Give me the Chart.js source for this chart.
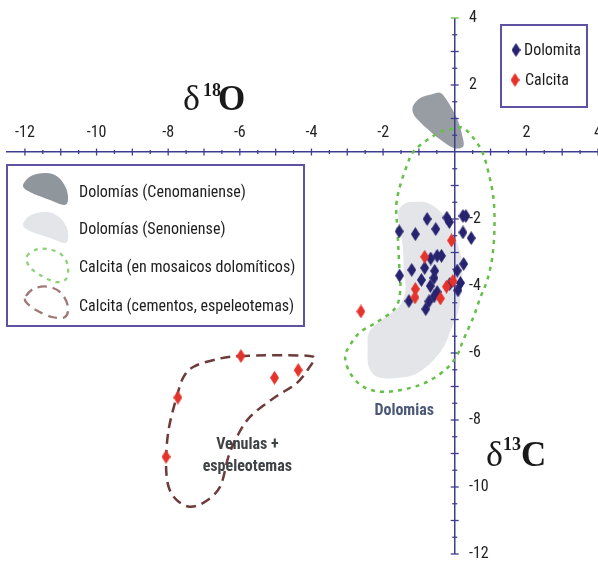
<!DOCTYPE html>
<html><head><meta charset="utf-8">
<style>html,body{margin:0;padding:0;background:#fff;}canvas{display:block;}</style>
<script src="https://cdn.jsdelivr.net/npm/chart.js@4.4.1/dist/chart.umd.min.js"></script>
</head><body>
<canvas id="c" width="598" height="561"></canvas>
<script>
// ---- data (δ18O, δ13C) ----
const dolomita = [[-0.77,-2.00],[-0.22,-1.96],[-0.15,-2.09],[0.23,-1.91],[0.31,-1.91],[-1.55,-2.37],[-1.10,-2.45],[-0.53,-2.30],[0.23,-2.40],[0.46,-2.57],[-0.67,-3.18],[-0.49,-3.10],[-0.37,-3.10],[-0.84,-3.46],[-1.20,-3.52],[-1.54,-3.69],[0.25,-3.34],[0.07,-3.54],[-0.56,-3.55],[-0.58,-3.76],[-0.93,-3.82],[-0.68,-4.00],[-0.14,-3.94],[0.16,-3.91],[0.09,-4.13],[-0.49,-4.18],[-0.58,-4.31],[-0.72,-4.46],[-0.81,-4.69],[-1.28,-4.45]];
const calcita = [[-0.09,-2.64],[-0.84,-3.13],[-1.10,-4.09],[-1.11,-4.34],[-0.40,-4.37],[-0.23,-4.02],[-0.05,-3.85],[-2.62,-4.76],[-5.97,-6.09],[-4.37,-6.51],[-5.03,-6.74],[-7.73,-7.33],[-8.06,-9.10]];
const seriesNames = ['Dolomita','Calcita'];
const xLabelValues = [-12,-10,-8,-6,-4,-2,2,4];
const yLabelValues = [4,2,-2,-4,-6,-8,-10,-12];
// field outlines (δ18O, δ13C)
const cenomaniense = [[-1.15,1.40],[-0.95,1.62],[-0.61,1.73],[-0.39,1.76],[-0.17,1.46],[0.08,0.96],[0.22,0.45],[0.25,0.21],[0.17,0.12],[-0.03,0.12],[-0.31,0.30],[-0.67,0.60],[-1.03,0.96],[-1.17,1.19]];
const senoniense = [[-1.56,-1.73],[-1.37,-1.52],[-1.15,-1.49],[-0.75,-1.52],[-0.39,-1.79],[-0.11,-2.24],[0.11,-2.84],[0.22,-3.43],[0.17,-4.12],[0.11,-4.72],[-0.11,-5.31],[-0.31,-5.82],[-0.67,-6.30],[-1.15,-6.66],[-1.70,-6.75],[-2.15,-6.72],[-2.40,-6.42],[-2.43,-5.82],[-2.40,-5.40],[-2.15,-5.10],[-1.84,-4.87],[-1.59,-4.66],[-1.45,-4.42],[-1.37,-4.03],[-1.42,-3.61],[-1.45,-2.84],[-1.56,-2.09]];
const calcitaMosaicos = [[-1.63,-1.58],[-1.52,-0.99],[-1.33,-0.39],[-1.19,-0.04],[-0.96,0.21],[-0.40,0.60],[0.02,0.70],[0.24,0.72],[0.52,0.42],[0.77,0.0],[0.94,-0.60],[1.08,-1.37],[1.11,-2.24],[1.05,-3.13],[0.91,-3.82],[0.72,-4.33],[0.52,-4.93],[0.24,-5.61],[0.07,-6.06],[-0.21,-6.45],[-0.68,-6.81],[-1.24,-7.04],[-1.99,-7.16],[-2.55,-7.01],[-2.92,-6.60],[-3.06,-6.12],[-2.92,-5.76],[-2.63,-5.37],[-2.16,-5.07],[-1.66,-4.66],[-1.52,-4.12],[-1.55,-3.37],[-1.60,-2.33]];
const calcitaCementos = [[-5.99,-6.09],[-4.13,-6.08],[-3.96,-6.23],[-4.08,-6.46],[-4.41,-6.90],[-5.06,-7.35],[-5.71,-7.90],[-6.08,-8.50],[-6.32,-9.10],[-6.55,-9.99],[-6.97,-10.44],[-7.39,-10.59],[-7.76,-10.39],[-7.99,-9.99],[-8.06,-9.29],[-7.99,-8.30],[-7.76,-7.30],[-7.57,-6.71],[-7.29,-6.41],[-6.73,-6.21]];
const regionNames = ['Dolomías (Cenomaniense)','Dolomías (Senoniense)','Calcita (en mosaicos dolomíticos)','Calcita (cementos, espeleotemas)'];
const noteLabels = ['Dolomias','Venulas +','espeleotemas'];

// ---- styling ----
const AXIS = '#3f3d8f';
const BOX = '#5e52a2';
const BLUE = '#27236f';
const RED = '#e5332b';
const GREEN = '#66bf48';
const BROWN = '#6e3a3a';
const NARROW = "'Liberation Sans Narrow','Arial Narrow','Roboto Condensed','DejaVu Sans Condensed',sans-serif";
const SERIF = "'Liberation Serif','DejaVu Serif',serif";

function diamond(color){
  const c=document.createElement('canvas'); c.width=9; c.height=14;
  const g=c.getContext('2d'); g.fillStyle=color;
  g.beginPath(); g.moveTo(4.5,0); g.lineTo(9,7); g.lineTo(4.5,14); g.lineTo(0,7); g.closePath(); g.fill();
  return c;
}
const blueDiamond = diamond(BLUE), redDiamond = diamond(RED);

function smoothClosed(ctx, pts){
  const n=pts.length;
  ctx.beginPath(); ctx.moveTo(pts[0][0],pts[0][1]);
  for(let i=0;i<n;i++){
    const p0=pts[(i-1+n)%n],p1=pts[i],p2=pts[(i+1)%n],p3=pts[(i+2)%n];
    ctx.bezierCurveTo(p1[0]+(p2[0]-p0[0])/6,p1[1]+(p2[1]-p0[1])/6,p2[0]-(p3[0]-p1[0])/6,p2[1]-(p3[1]-p1[1])/6,p2[0],p2[1]);
  }
  ctx.closePath();
}
function toPx(chart, arr){
  const {x,y}=chart.scales;
  return arr.map(p=>[x.getPixelForValue(p[0]), y.getPixelForValue(p[1])]);
}

const fieldsPlugin = {
  id:'fields',
  beforeDraw(chart){
    const ctx=chart.ctx; ctx.save();
    smoothClosed(ctx,toPx(chart,senoniense)); ctx.fillStyle='#e3e5e9'; ctx.fill();
    smoothClosed(ctx,toPx(chart,cenomaniense)); ctx.fillStyle='#979da3'; ctx.fill();
    ctx.restore();
  },
  beforeDatasetsDraw(chart){
    const ctx=chart.ctx; const {x,y}=chart.scales;
    ctx.save();
    const x0=x.getPixelForValue(0), y0=y.getPixelForValue(0);
    ctx.lineWidth=1.3;
    x.ticks.forEach(t=>{
      if(t.value<-12||t.value===0) return;
      const px=x.getPixelForValue(t.value), h=Number.isInteger(t.value)?3.5:2;
      ctx.strokeStyle=AXIS; ctx.beginPath(); ctx.moveTo(px,y0-h); ctx.lineTo(px,y0+h); ctx.stroke();
    });
    y.ticks.forEach(t=>{
      if(t.value===0) return;
      const py=y.getPixelForValue(t.value), h=Number.isInteger(t.value)?4:2.5;
      ctx.strokeStyle = t.value===4 ? GREEN : AXIS;
      ctx.beginPath(); ctx.moveTo(x0-h,py); ctx.lineTo(x0+h,py); ctx.stroke();
    });
    ctx.lineWidth=2.5; ctx.lineCap='butt';
    ctx.setLineDash([4,5]); ctx.strokeStyle=GREEN;
    smoothClosed(ctx,toPx(chart,calcitaMosaicos)); ctx.stroke();
    ctx.setLineDash([10,6]); ctx.strokeStyle=BROWN;
    smoothClosed(ctx,toPx(chart,calcitaCementos)); ctx.stroke();
    ctx.restore();
  },
  afterDraw(chart){
    const ctx=chart.ctx; const {x,y}=chart.scales;
    ctx.save();
    ctx.fillStyle='#1a1a1a'; ctx.textBaseline='alphabetic'; ctx.textAlign='left';
    ctx.font='36px '+SERIF; ctx.fillText('δ',183,110);
    ctx.font='bold 18px '+SERIF; ctx.fillText('18',203,96);
    ctx.font='bold 35px '+SERIF; ctx.fillText('O',218,110);
    ctx.font='36px '+SERIF; ctx.fillText('δ',486,466);
    ctx.font='bold 18px '+SERIF; ctx.fillText('13',503,450);
    ctx.font='bold 35px '+SERIF; ctx.fillText('C',521,466);
    ctx.textAlign='center'; ctx.textBaseline='middle';
    ctx.font='bold 16px '+NARROW;
    ctx.fillStyle='#4b5878'; ctx.fillText(noteLabels[0], x.getPixelForValue(-1.41), y.getPixelForValue(-7.73));
    ctx.fillStyle='#3f4246';
    ctx.fillText(noteLabels[1], x.getPixelForValue(-5.79), y.getPixelForValue(-8.75));
    ctx.fillText(noteLabels[2], x.getPixelForValue(-5.79), y.getPixelForValue(-9.40));
    ctx.lineWidth=2; ctx.strokeStyle=BOX; ctx.fillStyle='#fff';
    ctx.fillRect(501,25,86,82); ctx.strokeRect(501,25,86,82);
    ctx.drawImage(blueDiamond,516-4.5,50-7); ctx.drawImage(redDiamond,515-4.5,80-7);
    ctx.fillStyle='#1d1d1d'; ctx.textAlign='left'; ctx.font='16px '+NARROW;
    ctx.fillText(seriesNames[0],524,51); ctx.fillText(seriesNames[1],525,81);
    ctx.fillStyle='#fff'; ctx.fillRect(7,165,297,161); ctx.strokeRect(7,165,297,161);
    smoothClosed(ctx,[[23,186],[31,176],[46,173],[58,177],[66,188],[68,200],[64,205],[50,200],[32,193]]); ctx.fillStyle='#8f969c'; ctx.fill();
    smoothClosed(ctx,[[23,225],[31,215],[47,212],[59,217],[67,228],[68,239],[64,243],[50,238],[32,232]]); ctx.fillStyle='#e3e5e9'; ctx.fill();
    ctx.lineWidth=2.3;
    ctx.setLineDash([4,5]); ctx.strokeStyle='#8fd07a';
    smoothClosed(ctx,[[27,256],[38,249],[52,250],[63,256],[68,267],[66,279],[56,282],[40,275],[29,266]]); ctx.stroke();
    ctx.setLineDash([9,6]); ctx.strokeStyle='#a07878';
    smoothClosed(ctx,[[26,296],[35,288],[50,287],[62,294],[68,307],[65,317],[52,317],[36,310],[26,302]]); ctx.stroke();
    ctx.setLineDash([]);
    ctx.fillStyle='#1d1d1d'; ctx.font='16px '+NARROW;
    [193,230,268,307].forEach((yy,i)=>ctx.fillText(regionNames[i],79,yy));
    ctx.restore();
  }
};

new Chart(document.getElementById('c'), {
  type:'scatter',
  data:{datasets:[
    {label:seriesNames[0], data:dolomita.map(([a,b])=>({x:a,y:b})), pointStyle:blueDiamond, pointRadius:5, order:1},
    {label:seriesNames[1], data:calcita.map(([a,b])=>({x:a,y:b})), pointStyle:redDiamond, pointRadius:5, order:0}
  ]},
  options:{
    responsive:false, animation:false, devicePixelRatio:1,
    layout:{autoPadding:false, padding:{left:7,right:0,top:18,bottom:7}},
    plugins:{legend:{display:false}, tooltip:{enabled:false}},
    scales:{
      x:{type:'linear', position:{y:0}, min:-12.5, max:4,
        border:{display:true,color:AXIS,width:1.5},
        grid:{drawOnChartArea:true, drawTicks:false, lineWidth:1.5, color:c=>(c.tick&&c.tick.value===0)?AXIS:'rgba(0,0,0,0)'},
        ticks:{stepSize:0.5, autoSkip:false, maxRotation:0, minRotation:0, padding:-29, color:'#222',
          font:{family:NARROW,size:16}, callback:v=>xLabelValues.includes(v)?String(v):''},
        afterFit:s=>{s.paddingLeft=0; s.paddingRight=0;}
      },
      y:{type:'linear', position:'left', min:-12, max:4,
        border:{display:false}, grid:{display:false, drawTicks:false},
        ticks:{stepSize:0.5, autoSkip:false, mirror:true, padding:462, color:'#222',
          font:{family:NARROW,size:16}, callback:v=>yLabelValues.includes(v)?String(v):''},
        afterFit:s=>{s.width=0; s.paddingTop=0; s.paddingBottom=0;}
      }
    }
  },
  plugins:[fieldsPlugin]
});
</script>
</body></html>
